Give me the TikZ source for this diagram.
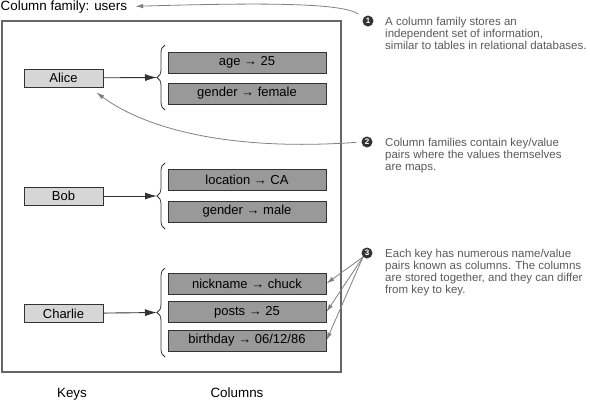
\documentclass[tikz,border=0pt]{standalone}
\usepackage{fontspec}
\setmainfont{Liberation Sans}
\usetikzlibrary{arrows.meta,decorations.pathreplacing,calc}
\definecolor{keyfill}{HTML}{D6D6D6}
\definecolor{colfill}{HTML}{999999}
\definecolor{edge}{HTML}{333333}
\definecolor{anntext}{HTML}{5A5A5A}
\definecolor{annline}{HTML}{808080}
\definecolor{frameline}{HTML}{666666}
\begin{document}
\begin{tikzpicture}[x=1pt,y=-1pt,
 keybox/.style={draw=edge, fill=keyfill, line width=0.9pt, minimum width=79pt, minimum height=18pt, inner sep=0pt, font=\fontsize{13}{15}\selectfont},
 colbox/.style={draw=edge, fill=colfill, line width=0.9pt, minimum width=158pt, minimum height=21pt, inner sep=0pt, font=\fontsize{13}{15}\selectfont},
 keyarrow/.style={draw=edge, line width=0.9pt, -{Latex[length=12pt,width=7pt]}},
 bracestyle/.style={draw=edge, line width=0.8pt, decorate, decoration={brace, amplitude=8pt}},
 num/.style={circle, fill=edge, text=white, inner sep=0pt, minimum size=11pt, font=\fontsize{8}{8}\selectfont\bfseries},
 ann/.style={anchor=north west, align=left, text=anntext, inner sep=0pt, font=\fontsize{11.5}{12.2}\selectfont},
 annarrow/.style={draw=annline, line width=0.8pt, -{Latex[length=8pt,width=4.5pt]}},
 lbl/.style={font=\fontsize{13.4}{16}\selectfont, inner sep=0pt}
]
\useasboundingbox (0,0) rectangle (590,400);

% frame
\node[draw=frameline, line width=1.2pt, minimum width=339pt, minimum height=351pt, inner sep=0pt] (frame) at (171.5,196.5) {};
\node[lbl, anchor=base west] (title) at (0.5,10) {Column family: users};
\node[lbl, anchor=base] (keys) at (72,397) {Keys};
\node[lbl, anchor=base] (cols) at (237,397) {Columns};

% keys
\node[keybox] (alice) at (63.5,78) {Alice};
\node[keybox] (bob) at (63.5,196) {Bob};
\node[keybox] (charlie) at (63.5,313.5) {Charlie};

% columns
\node[colbox] (age) at (247,62.5) {age → 25};
\node[colbox] (genf) at (247,93.5) {gender → female};
\node[colbox] (loc) at (247,179.5) {location → CA};
\node[colbox] (genm) at (247,211.5) {gender → male};
\node[colbox] (nick) at (247,283.5) {nickname → chuck};
\node[colbox] (posts) at (247,312) {posts → 25};
\node[colbox] (birth) at (247,340.5) {birthday → 06/12/86};

% braces
\coordinate (atip) at (157,77.5);
\coordinate (abot) at (165,110);
\coordinate (atop) at (165,45);
\coordinate (btip) at (157,196);
\coordinate (bbot) at (165,229);
\coordinate (btop) at (165,163);
\coordinate (ctip) at (157,312.5);
\coordinate (cbot) at (165,357);
\coordinate (ctop) at (165,268);
\draw[bracestyle] (abot) -- (atop);
\draw[bracestyle] (bbot) -- (btop);
\draw[bracestyle] (cbot) -- (ctop);
\draw[keyarrow] (alice) -- (atip);
\draw[keyarrow] (bob) -- (btip);
\draw[keyarrow] (charlie) -- (ctip);

% annotations
\node[num] (n1) at (368,21) {1};
\node[ann] (t1) at (385,16.6) {A column family stores an\\independent set of information,\\similar to tables in relational databases.};
\node[num] (n2) at (367,142) {2};
\node[ann] (t2) at (385,137.6) {Column families contain key/value\\pairs where the values themselves\\are maps.};
\node[num] (n3) at (367,253) {3};
\node[ann] (t3) at (385,248.6) {Each key has numerous name/value\\pairs known as columns. The columns\\are stored together, and they can differ\\from key to key.};

\draw[annarrow, shorten <=6pt, shorten >=8pt] (n1.145) .. controls (342,2) and (250,3) .. (title.east);
\draw[annarrow, shorten <=5pt] (n2.west) .. controls (220,152) and (140,125) .. ($(alice.south east)+(-7,5)$);
\draw[annarrow] (n3.south west) -- (nick.east);
\draw[annarrow] (n3.south west) -- (posts.east);
\draw[annarrow] (n3.south west) -- (birth.east);
\end{tikzpicture}
\end{document}
